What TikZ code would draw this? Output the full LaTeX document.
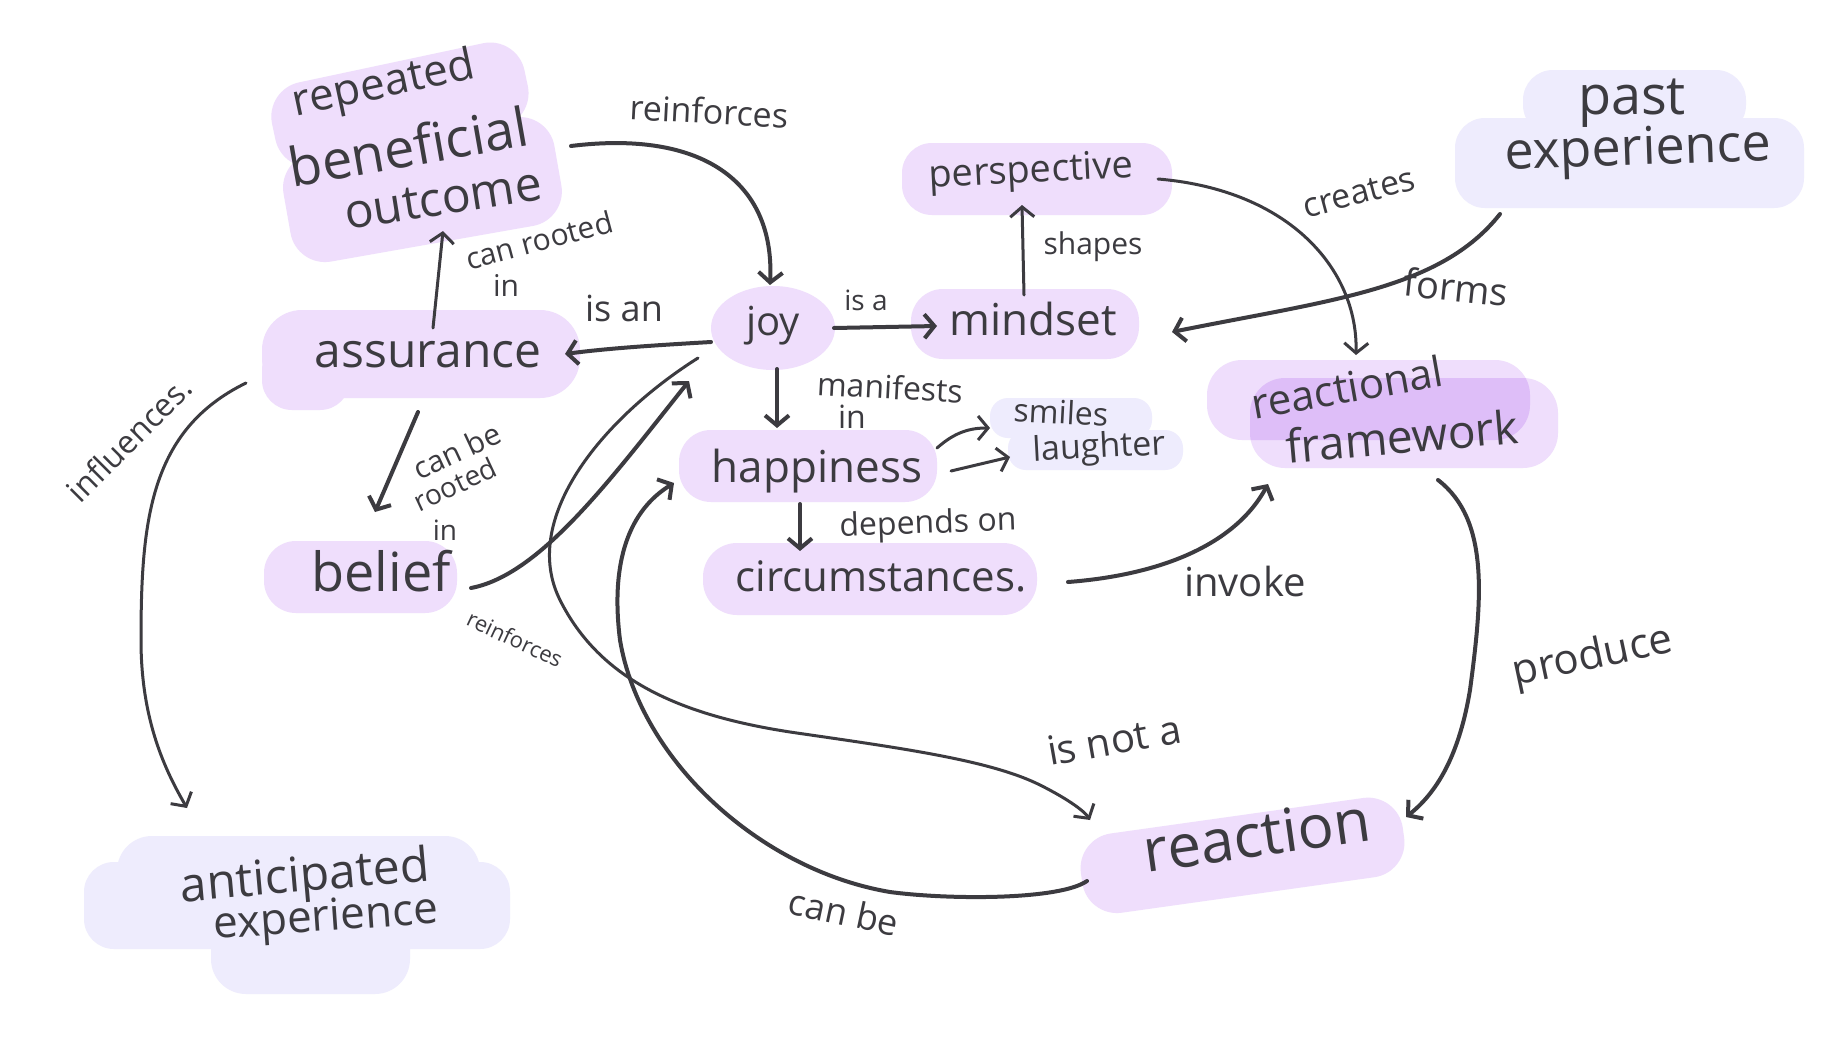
\documentclass[tikz,border=0pt]{standalone}
\usepackage{fontspec}
\setmainfont{Open Sans}
\usetikzlibrary{arrows.meta}
\definecolor{ink}{RGB}{60,59,64}
\definecolor{blobP}{RGB}{239,222,252}
\definecolor{blobB}{RGB}{238,236,253}
\definecolor{blobD}{RGB}{222,190,248}
\begin{document}
\begin{tikzpicture}[x=1pt,y=-1pt,
  fs/.style={font=\fontsize{#1}{#1}\selectfont},
  txt/.style={text=ink, inner sep=0pt},
  arr/.style={draw=ink, line width=4pt, line cap=round, -{Straight Barb[length=10pt,width=24pt]}},
  thin/.style={line width=3pt}]
\useasboundingbox[fill=white] (0,0) rectangle (1837,1060);
% ---------- blobs ----------
\fill[blobP, rounded corners=35, rotate around={12:(400,110)}] (272,62) rectangle (530,148);
\fill[blobP, rounded corners=35, rotate around={10:(420,190)}] (285,135) rectangle (560,245);
\fill[blobP, rounded corners=30] (902,143) rectangle (1172,215);
\fill[blobB, rounded corners=30] (1523,70) rectangle (1746,135);
\fill[blobB, rounded corners=30] (1455,118) rectangle (1804,208);
\fill[blobP] (773,328) ellipse [x radius=62, y radius=42];
\fill[blobP, rounded corners=32] (911,289) rectangle (1139,359);
\fill[blobP, rounded corners=40] (262,310) rectangle (580,398);
\fill[blobP, rounded corners=30] (262,340) rectangle (350,410);
\fill[blobP, rounded corners=32] (679,430) rectangle (937,502);
\fill[blobB, rounded corners=18] (990,398) rectangle (1152,438);
\fill[blobB, rounded corners=18] (1008,430) rectangle (1183,470);
\fill[blobP, rounded corners=35] (1207,360) rectangle (1530,440);
\fill[blobP, rounded corners=35] (1250,378) rectangle (1558,468);
\begin{scope}
  \clip[rounded corners=35] (1207,360) rectangle (1530,440);
  \fill[blobD, rounded corners=35] (1250,378) rectangle (1558,468);
\end{scope}
\fill[blobP, rounded corners=32] (264,541) rectangle (457,613);
\fill[blobP, rounded corners=34] (703,543) rectangle (1037,615);
\fill[blobP, rounded corners=35, rotate around={8:(1245,855)}] (1080,815) rectangle (1405,895);
\fill[blobB, rounded corners=35] (117,836) rectangle (480,926);
\fill[blobB, rounded corners=30] (84,862) rectangle (510,949);
\fill[blobB, rounded corners=35] (211,900) rectangle (410,994);
% ---------- concept nodes ----------
\node[txt, fs=44, rotate=12] (outcomeA) at (384,86) {repeated};
\node[txt, fs=54, rotate=10] (outcome) at (408,146) {beneficial};
\node[txt, fs=48, rotate=9] (outcomeC) at (443,199) {outcome};
\node[txt, fs=38, rotate=3] (perspective) at (1031,173) {perspective};
\node[txt, fs=54] (pastA) at (1632,103) {past};
\node[txt, fs=52, rotate=2] (past) at (1638,152) {experience};
\node[txt, fs=40] (joy) at (773,326) {joy};
\node[txt, fs=44] (mindset) at (1033,319) {mindset};
\node[txt, fs=48] (assurance) at (428,355) {assurance};
\node[txt, fs=44] (happiness) at (817,471) {happiness};
\node[txt, fs=32, rotate=-3] (smiles) at (1061,412) {smiles};
\node[txt, fs=34, rotate=3] (laughter) at (1099,449) {laughter};
\node[txt, fs=42, rotate=10] (frameA) at (1347,387) {reactional};
\node[txt, fs=46, rotate=5] (frame) at (1402,436) {framework};
\node[txt, fs=54] (belief) at (381,571) {belief};
\node[txt, fs=42] (circ) at (881,576) {circumstances.};
\node[txt, fs=60, rotate=8] (reaction) at (1257,835) {reaction};
\node[txt, fs=48, rotate=5] (antic) at (305,879) {anticipated};
\node[txt, fs=44, rotate=4] (anticB) at (326,920) {experience};
% ---------- link labels ----------
\node[txt, fs=34, rotate=-3] (l1) at (709,111) {reinforces};
\node[txt, fs=34, rotate=15] (l2) at (1359,193) {creates};
\node[txt, fs=38, rotate=-6] (l3) at (1456,287) {forms};
\node[txt, fs=28] (l4) at (866,300) {is a};
\node[txt, fs=30] (l5) at (1093,247) {shapes};
\node[txt, fs=36] (l6) at (624,308) {is an};
\node[txt, fs=30, rotate=15] (l7) at (539,240) {can rooted};
\node[txt, fs=30] (l7b) at (506,285) {in};
\node[txt, fs=32, rotate=45] (l8) at (129,439) {influences.};
\node[txt, fs=32, rotate=-3] (l9) at (890,387) {manifests};
\node[txt, fs=32] (l9b) at (852,417) {in};
\node[txt, fs=30, rotate=25] (l10) at (457,451) {can be};
\node[txt, fs=28, rotate=25] (l10b) at (455,484) {rooted};
\node[txt, fs=28] (l10c) at (445,530) {in};
\node[txt, fs=32, rotate=2] (l11) at (928,525) {depends on};
\node[txt, fs=40] (l12) at (1245,581) {invoke};
\node[txt, fs=22, rotate=-25] (l13) at (515,639) {reinforces};
\node[txt, fs=42, rotate=12] (l14) at (1593,658) {produce};
\node[txt, fs=40, rotate=10] (l15) at (1114,740) {is not a};
\node[txt, fs=36, rotate=-12] (l16) at (844,912) {can be};
% ---------- connectors ----------
\draw[arr] ([shift={(163,0)}]outcome.center) .. controls (700,130) and (775,180) .. ([shift={(-3,-41)}]joy.center);
\draw[arr] ([shift={(-62,16)}]joy.center) .. controls (660,345) and (610,348) .. ([shift={(137,-1)}]assurance.center);
\draw[arr, thin] ([shift={(5,-27)}]assurance.center) -- ([shift={(35,85)}]outcome.center);
\draw[arr] ([shift={(61,2)}]joy.center) -- ([shift={(-96,7)}]mindset.center);
\draw[arr, thin] ([shift={(-9,-24)}]mindset.center) -- ([shift={(-9,32)}]perspective.center);
\draw[arr, thin] ([shift={(127,6)}]perspective.center) .. controls (1290,190) and (1358,270) .. ([shift={(-46,-81)}]frame.center);
\draw[arr] ([shift={(-138,62)}]past.center) .. controls (1440,290) and (1330,300) .. ([shift={(139,13)}]mindset.center);
\draw[arr] ([shift={(4,43)}]joy.center) -- ([shift={(-40,-43)}]happiness.center);
\draw[arr] ([shift={(-17,33)}]happiness.center) -- ([shift={(-81,-25)}]circ.center);
\draw[arr, thin] ([shift={(120,-23)}]happiness.center) .. controls (955,432) and (970,428) .. ([shift={(-71,16)}]smiles.center);
\draw[arr, thin] ([shift={(134,0)}]happiness.center) -- ([shift={(-89,8)}]laughter.center);
\draw[arr] ([shift={(-10,57)}]assurance.center) -- ([shift={(-6,-59)}]belief.center);
\draw[arr] ([shift={(90,17)}]belief.center) .. controls (540,575) and (610,480) .. ([shift={(-84,55)}]joy.center);
\draw[arr, thin] ([shift={(-182,28)}]assurance.center) .. controls (150,430) and (141,520) .. (141,640) .. controls (141,720) and (165,770) .. ([shift={(-118,-71)}]antic.center);
\draw[arr] ([shift={(187,6)}]circ.center) .. controls (1160,575) and (1235,545) .. ([shift={(-134,48)}]frame.center);
\draw[arr] ([shift={(36,44)}]frame.center) .. controls (1490,520) and (1482,600) .. (1470,690) .. controls (1460,750) and (1440,790) .. ([shift={(149,-18)}]reaction.center);
\draw[arr, thin] ([shift={(-75,32)}]joy.center) .. controls (600,420) and (520,520) .. (560,600) .. controls (600,680) and (680,715) .. (790,732) .. controls (900,748) and (990,760) .. (1040,785) .. controls (1070,800) and (1085,812) .. ([shift={(-167,-15)}]reaction.center);
\draw[arr] ([shift={(-170,46)}]reaction.center) .. controls (1060,900) and (950,900) .. (890,892) .. controls (760,870) and (640,760) .. (620,640) .. controls (610,560) and (630,510) .. ([shift={(-143,12)}]happiness.center);
\end{tikzpicture}
\end{document}
